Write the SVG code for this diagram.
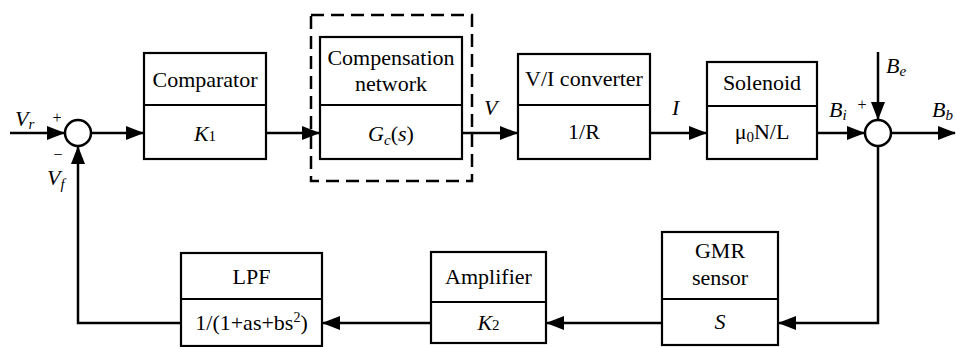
<svg xmlns="http://www.w3.org/2000/svg" width="956" height="347" viewBox="0 0 956 347">
<style>
.box{fill:#fff;stroke:#000;stroke-width:2.2}
.div{stroke:#000;stroke-width:2.2}
.t{font-size:22px;fill:#000;text-anchor:middle}
.l{font-size:22px;fill:#000;font-style:italic}
.sg{font-size:16px;fill:#000;text-anchor:middle}
.c{fill:none;stroke:#000;stroke-width:2.5}
.sum{fill:#fff;stroke:#000;stroke-width:2.5}
.i{font-style:italic}
</style>
<defs>
<marker id="ah" markerWidth="18" markerHeight="14" refX="17" refY="7" orient="auto" markerUnits="userSpaceOnUse">
<path d="M0,0 L18,7 L0,14 z" fill="#000"/>
</marker>
</defs>

<g id="connectors">
<path class="c" d="M10,133 H64" marker-end="url(#ah)"/>
<path class="c" d="M91,133 H143" marker-end="url(#ah)"/>
<path class="c" d="M266,133 H319" marker-end="url(#ah)"/>
<path class="c" d="M462,133 H517" marker-end="url(#ah)"/>
<path class="c" d="M650,133 H706" marker-end="url(#ah)"/>
<path class="c" d="M817,133 H864" marker-end="url(#ah)"/>
<path class="c" d="M878,52 V119" marker-end="url(#ah)"/>
<path class="c" d="M891,133 H955" marker-end="url(#ah)"/>
<path class="c" d="M878,146 V323 H779" marker-end="url(#ah)"/>
<path class="c" d="M662,323 H547" marker-end="url(#ah)"/>
<path class="c" d="M431,323 H323" marker-end="url(#ah)"/>
<path class="c" d="M181,323 H78 V147" marker-end="url(#ah)"/>
</g>

<g font-family="'Liberation Serif', 'Times New Roman', 'DejaVu Serif', serif">
<g id="sum1">
<circle class="sum" cx="78" cy="133" r="13"/>
<text class="sg" x="57" y="123">+</text>
<text class="sg" x="58" y="160">−</text>
</g>

<g id="sum2">
<circle class="sum" cx="878" cy="133" r="13"/>
<text class="sg" x="862" y="110">+</text>
</g>

<g id="comparator">
<rect class="box" x="144" y="53" width="122" height="106"/>
<line class="div" x1="144" y1="105" x2="266" y2="105"/>
<text class="t" x="205" y="87">Comparator</text>
<text class="t" x="205" y="141"><tspan class="i">K</tspan><tspan font-size="15">1</tspan></text>
</g>

<g id="compensation">
<rect x="311" y="15" width="161" height="166" fill="none" stroke="#000" stroke-width="2.5" stroke-dasharray="13,7"/>
<rect class="box" x="320" y="37" width="142" height="122"/>
<line class="div" x1="320" y1="105" x2="462" y2="105"/>
<text class="t" x="391" y="65">Compensation</text>
<text class="t" x="391" y="91">network</text>
<text class="t" x="391" y="141"><tspan class="i">G</tspan><tspan class="i" font-size="15" dy="4">c</tspan><tspan dy="-4">(</tspan><tspan class="i">s</tspan>)</text>
</g>

<g id="vi">
<rect class="box" x="518" y="54" width="132" height="105"/>
<line class="div" x1="518" y1="105" x2="650" y2="105"/>
<text class="t" x="584" y="86">V/I converter</text>
<text class="t" x="584" y="139">1/R</text>
</g>

<g id="solenoid">
<rect class="box" x="707" y="62" width="110" height="97"/>
<line class="div" x1="707" y1="106" x2="817" y2="106"/>
<text class="t" x="762" y="90">Solenoid</text>
<text class="t" x="762" y="139">μ<tspan font-size="15" dy="3">0</tspan><tspan dy="-3">N/L</tspan></text>
</g>

<g id="gmr">
<rect class="box" x="662" y="232" width="116" height="113"/>
<line class="div" x1="662" y1="299" x2="778" y2="299"/>
<text class="t" x="720" y="258">GMR</text>
<text class="t" x="720" y="285">sensor</text>
<text class="t" x="720" y="329"><tspan class="i">S</tspan></text>
</g>

<g id="amplifier">
<rect class="box" x="431" y="252" width="115" height="91"/>
<line class="div" x1="431" y1="302" x2="546" y2="302"/>
<text class="t" x="488.5" y="284">Amplifier</text>
<text class="t" x="488.5" y="330"><tspan class="i">K</tspan><tspan font-size="15">2</tspan></text>
</g>

<g id="lpf">
<rect class="box" x="181" y="253" width="141" height="93"/>
<line class="div" x1="181" y1="299" x2="322" y2="299"/>
<text class="t" x="251.5" y="284">LPF</text>
<text class="t" x="251.5" y="330">1/(1+as+bs<tspan font-size="14" dy="-8">2</tspan><tspan dy="8">)</tspan></text>
</g>

<g id="labels">
<text class="l" x="15" y="126">V<tspan font-size="15" dy="3">r</tspan></text>
<text class="l" x="47" y="185">V<tspan font-size="15" dy="4">f</tspan></text>
<text class="l" x="484" y="115">V</text>
<text class="l" x="672" y="115">I</text>
<text class="l" x="829" y="117">B<tspan font-size="15" dy="3">i</tspan></text>
<text class="l" x="886" y="73">B<tspan font-size="15" dy="3">e</tspan></text>
<text class="l" x="932" y="117">B<tspan font-size="15" dy="3">b</tspan></text>
</g>
</g>
</svg>
